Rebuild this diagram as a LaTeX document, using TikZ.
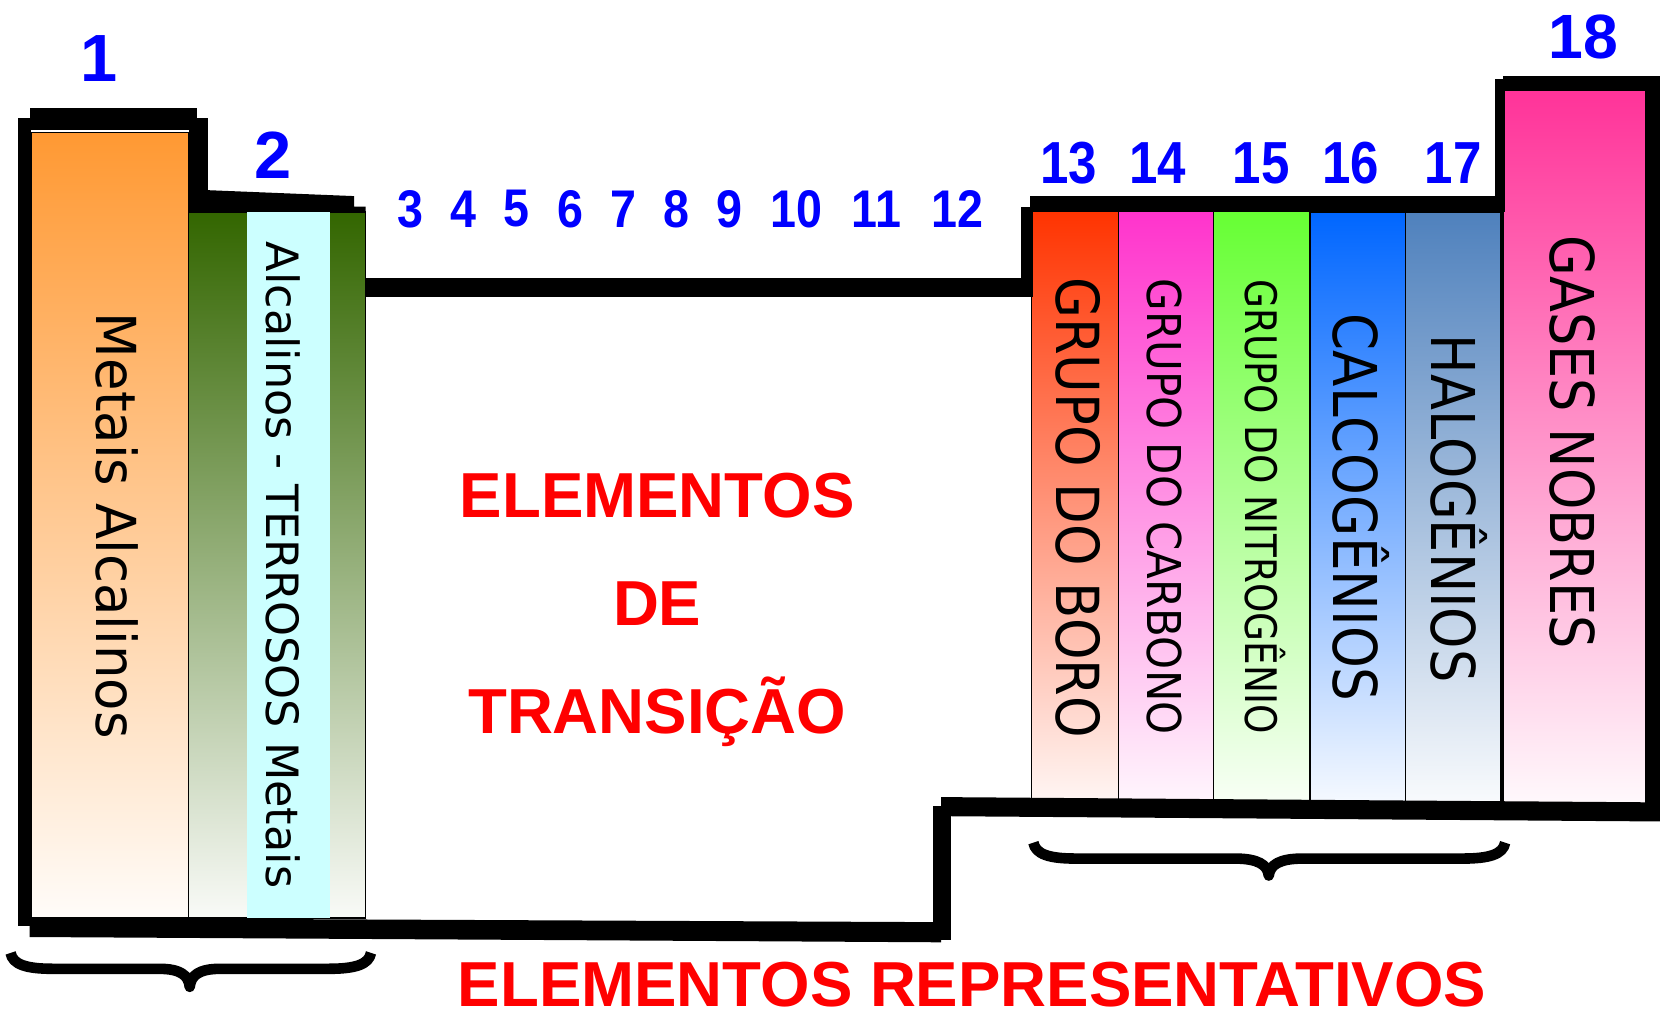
\documentclass[tikz,border=0pt]{standalone}
\usepackage{fontspec}
\setmainfont{Liberation Sans}
\newfontfamily\dejavu{DejaVu Sans}
\usepackage{graphicx}
\definecolor{numblue}{HTML}{0000FF}
\definecolor{redtxt}{HTML}{FF0000}
\definecolor{cOrange}{HTML}{FF9933}
\definecolor{cGreen}{HTML}{336600}
\definecolor{cCyan}{HTML}{CCFFFF}
\definecolor{cBoro}{HTML}{FF3300}
\definecolor{cCarb}{HTML}{FF33CC}
\definecolor{cNitro}{HTML}{66FF33}
\definecolor{cCalc}{HTML}{0066FF}
\definecolor{cHalo}{HTML}{4F81BD}
\definecolor{cGas}{HTML}{FF3399}
\newcommand{\VLabel}[7]{\node[vlab, text height=#5pt] (#1) at (#2,#3) {\fontsize{#4}{#4}\selectfont\dejavu\scalebox{#6}[1]{#7}};}
\begin{document}
\begin{tikzpicture}[x=1pt,y=-1pt,
  bar/.style={fill=black},
  box/.style={draw=black, line width=1.2pt},
  num/.style={text=numblue, inner sep=0pt},
  redlab/.style={text=redtxt, inner sep=0pt, anchor=base, font=\fontsize{60}{60}\selectfont\bfseries},
  vlab/.style={rotate=-90, inner sep=0pt, text depth=0pt, text=black},
  bracestyle/.style={draw=black, line width=10pt, line join=round}]
\useasboundingbox (0,0) rectangle (1568,956);

% coloured boxes
\shadedraw[box, top color=cOrange, bottom color=cOrange!3!white] (30,125) rectangle (178,866);
\shadedraw[box, top color=cGreen, bottom color=cGreen!3!white] (178,200) rectangle (345,866);
\fill[cCyan] (233,200) rectangle (311,866);
\shadedraw[box, top color=cBoro, bottom color=cBoro!4!white] (973,198) rectangle (1055,760);
\shadedraw[box, top color=cCarb, bottom color=cCarb!4!white] (1055,198) rectangle (1145,760);
\shadedraw[box, top color=cNitro, bottom color=cNitro!4!white] (1145,198) rectangle (1236,760);
\shadedraw[box, top color=cCalc, bottom color=cCalc!3!white] (1236,200) rectangle (1326,762);
\shadedraw[box, top color=cHalo, bottom color=cHalo!3!white] (1326,200) rectangle (1416,762);
\shadedraw[box, top color=cGas, bottom color=cGas!3!white] (1418,85) rectangle (1553,760);

% black frame
\fill[bar] (17,111) rectangle (29,874);
\fill[bar] (28,102) rectangle (186,123);
\fill[bar] (17,111) rectangle (196,123);
\fill[bar] (178,111) rectangle (196,200);
\fill[bar] (186,179) -- (334,185) -- (334,195) -- (345,195) -- (345,200) -- (186,200) -- cycle;
\fill[bar] (345,262) rectangle (975,280);
\fill[bar] (963,195) rectangle (975,280);
\fill[bar] (972,185) rectangle (1418,200);
\fill[bar] (1410,75) rectangle (1420,200);
\fill[bar] (1418,72) rectangle (1566,85);
\fill[bar] (1553,72) rectangle (1566,773);
\fill[bar] (888,752) -- (1566,757) -- (1566,775) -- (888,770) -- cycle;
\fill[bar] (880,760) rectangle (897,887);
\fill[bar] (28,866) -- (888,870) -- (888,889) -- (28,884) -- cycle;

% braces
\draw[bracestyle] (10,899) .. controls (12,910) and (25,914) .. (50,914) -- (150,914)
  .. controls (170,914) and (178,920) .. (179,931)
  .. controls (180,920) and (188,914) .. (208,914) -- (310,914)
  .. controls (335,914) and (348,910) .. (350,899);
\draw[bracestyle] (975,795) .. controls (977,806) and (990,810) .. (1015,810) -- (1165,810)
  .. controls (1187,810) and (1196,816) .. (1197,826)
  .. controls (1198,816) and (1207,810) .. (1229,810) -- (1380,810)
  .. controls (1405,810) and (1418,806) .. (1420,795);

% group numbers
\node[num, font=\fontsize{63}{63}\selectfont\bfseries] (n1) at (93,55) {1};
\node[num, font=\fontsize{63}{63}\selectfont\bfseries] (n2) at (258,146) {2};
\foreach \lab/\xx in {3/387,4/437,5/487,6/538,7/588,8/638,9/688,10/751,11/827,12/903}
  \node[num, font=\fontsize{50}{50}\selectfont\bfseries] (n\lab) at (\xx,197) {\scalebox{.88}[1]{\lab}};
\foreach \lab/\xx in {13/1008,14/1092,15/1190,16/1274,17/1371}
  \node[num, font=\fontsize{56}{56}\selectfont\bfseries] (n\lab) at (\xx,154) {\scalebox{.86}[1]{\lab}};
\node[num, font=\fontsize{59}{59}\selectfont\bfseries] (n18) at (1494,35) {18};

% vertical labels
\VLabel{tG1}{110}{496}{52}{37.9}{.96}{Metais Alcalinos}
\VLabel{tG2}{267}{533}{42}{30.6}{1}{Alcalinos - TERROSOS Metais}
\VLabel{tG13}{1017}{479}{56}{40.8}{.89}{GRUPO DO BORO}
\VLabel{tG14}{1099}{478}{44}{32.1}{.90}{GRUPO DO CARBONO}
\VLabel{tG15}{1190}{478}{41}{29.9}{.86}{GRUPO DO NITROGÊNIO}
\VLabel{tG16}{1279}{479}{57}{41.6}{.88}{CALCOGÊNIOS}
\VLabel{tG17}{1371}{480}{57}{41.6}{.87}{HALOGÊNIOS}
\VLabel{tG18}{1484}{417}{57}{41.6}{.87}{GASES NOBRES}

% red labels
\node[redlab] (tr1) at (620,488) {ELEMENTOS};
\node[redlab] (tr2) at (620,590) {DE};
\node[redlab] (tr3) at (620,692) {TRANSIÇÃO};
\node[redlab] (rep) at (917,950) {ELEMENTOS REPRESENTATIVOS};
\end{tikzpicture}
\end{document}
